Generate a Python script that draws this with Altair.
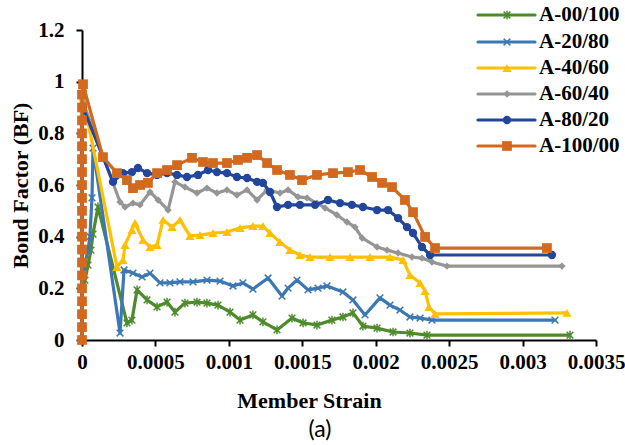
import altair as alt
import pandas as pd

# ---------------- data ----------------
names = ["A-00/100", "A-20/80", "A-40/60", "A-60/40", "A-80/20", "A-100/00"]
colors = ["#4E8B2C", "#3B78B4", "#FFC000", "#959595", "#22479A", "#D2691E"]

a00_strain = [0, 0, 0, 0, 0,
              0.00002, 0.000041, 0.000061, 0.000075, 0.000109, 0.000306, 0.00034, 0.000375, 0.000443, 0.000511,
              0.000579, 0.000633, 0.000701, 0.000783, 0.000851, 0.000926, 0.001008, 0.001076, 0.001164, 0.001232,
              0.001328, 0.00143, 0.001505, 0.0016, 0.001702, 0.001777, 0.001845, 0.001913, 0.002009, 0.002118,
              0.002233, 0.002349, 0.003323]
a00_bf = [0, 0.05, 0.10, 0.15, 0.20,
          0.232, 0.29, 0.348, 0.41, 0.515, 0.066, 0.077, 0.194, 0.155, 0.128,
          0.147, 0.108, 0.143, 0.147, 0.143, 0.135, 0.108, 0.077, 0.097, 0.070,
          0.039, 0.085, 0.066, 0.058, 0.077, 0.089, 0.105, 0.054, 0.046, 0.031,
          0.027, 0.019, 0.019]

a20_strain = [0, 0, 0, 0, 0, 0,
              0.000014, 0.000041, 0.000054, 0.000068, 0.000075, 0.000259, 0.000286, 0.000347, 0.000409, 0.000463,
              0.000531, 0.000599, 0.000667, 0.000756, 0.000851, 0.00094, 0.001028, 0.001096, 0.001164, 0.001267,
              0.001362, 0.001403, 0.001464, 0.001539, 0.001607, 0.001668, 0.001777, 0.001845, 0.001927, 0.002029,
              0.002097, 0.002165, 0.002233, 0.002302, 0.002383, 0.003221]
a20_bf = [0, 0.05, 0.10, 0.15, 0.20, 0.25,
          0.279, 0.348, 0.40, 0.55, 0.743, 0.027, 0.271, 0.259, 0.244, 0.259,
          0.221, 0.221, 0.225, 0.225, 0.232, 0.228, 0.209, 0.221, 0.197, 0.240,
          0.170, 0.201, 0.232, 0.194, 0.201, 0.209, 0.186, 0.155, 0.097, 0.163,
          0.135, 0.116, 0.089, 0.085, 0.077, 0.077]

a40_strain = [0, 0, 0, 0, 0, 0, 0, 0, 0, 0, 0, 0, 0, 0, 0, 0, 0, 0, 0,
              0.000007, 0.000238, 0.000279, 0.000293, 0.00034, 0.000361, 0.000415, 0.000463, 0.000511, 0.000552,
              0.000613, 0.000667, 0.000735, 0.000803, 0.000892, 0.000987, 0.001076, 0.001164, 0.001232, 0.00128,
              0.001348, 0.001416, 0.001484, 0.001553, 0.001689, 0.001825, 0.001961, 0.002097, 0.002186, 0.002233,
              0.002302, 0.002336, 0.002363, 0.002404, 0.003302]
a40_bf = [0, 0.05, 0.10, 0.15, 0.20, 0.25, 0.30, 0.35, 0.40, 0.45, 0.50, 0.55, 0.60, 0.65, 0.70, 0.75, 0.80, 0.85, 0.90,
          0.94, 0.283, 0.310, 0.368, 0.426, 0.453, 0.387, 0.360, 0.368, 0.465,
          0.437, 0.465, 0.403, 0.406, 0.414, 0.418, 0.434, 0.441, 0.441, 0.414,
          0.379, 0.348, 0.329, 0.321, 0.321, 0.321, 0.321, 0.321, 0.310, 0.252,
          0.221, 0.190, 0.128, 0.101, 0.105]

a60_strain = [0, 0, 0, 0, 0, 0, 0, 0, 0, 0, 0, 0, 0, 0, 0, 0, 0, 0,
              0.000007, 0.000259, 0.000293, 0.000347, 0.000395, 0.000463, 0.000518, 0.000586, 0.000633, 0.000701,
              0.000783, 0.000851, 0.000919, 0.000987, 0.001055, 0.001124, 0.001192, 0.00126, 0.001348, 0.001403,
              0.001471, 0.001532, 0.0016, 0.001655, 0.001736, 0.001804, 0.001859, 0.001907, 0.002009, 0.002077,
              0.002152, 0.002247, 0.002315, 0.002383, 0.002485, 0.003268]
a60_bf = [0, 0.05, 0.10, 0.15, 0.20, 0.25, 0.30, 0.35, 0.40, 0.45, 0.50, 0.55, 0.60, 0.65, 0.70, 0.75, 0.80, 0.85,
          0.92, 0.534, 0.515, 0.530, 0.523, 0.573, 0.542, 0.503, 0.612, 0.592,
          0.569, 0.588, 0.569, 0.581, 0.561, 0.581, 0.542, 0.581, 0.569, 0.581,
          0.554, 0.550, 0.530, 0.511, 0.484, 0.457, 0.437, 0.395, 0.360, 0.348,
          0.337, 0.321, 0.317, 0.302, 0.286, 0.286]

a80_strain = [0, 0, 0, 0, 0, 0, 0, 0, 0, 0, 0, 0, 0, 0, 0, 0, 0, 0,
              0.000007, 0.000211, 0.000279, 0.00034, 0.000381, 0.000443, 0.000511, 0.000579, 0.000647, 0.000715,
              0.00079, 0.000858, 0.000919, 0.000987, 0.001055, 0.001124, 0.001192, 0.001232, 0.00128, 0.001328,
              0.001403, 0.001484, 0.001587, 0.001675, 0.001757, 0.001838, 0.001913, 0.002009, 0.002084, 0.002152,
              0.002213, 0.002254, 0.002315, 0.00237, 0.0032]
a80_bf = [0, 0.05, 0.10, 0.15, 0.20, 0.25, 0.30, 0.35, 0.40, 0.45, 0.50, 0.55, 0.60, 0.65, 0.70, 0.75, 0.80, 0.85,
          0.90, 0.612, 0.646, 0.650, 0.666, 0.646, 0.639, 0.646, 0.639, 0.631,
          0.639, 0.658, 0.650, 0.646, 0.631, 0.627, 0.612, 0.608, 0.573, 0.515,
          0.523, 0.523, 0.523, 0.542, 0.530, 0.523, 0.515, 0.503, 0.503, 0.472,
          0.437, 0.414, 0.360, 0.329, 0.329]

a100_strain = [0, 0, 0, 0, 0, 0, 0, 0, 0, 0, 0, 0, 0, 0, 0, 0, 0, 0, 0, 0,
               0.000007, 0.000143, 0.000238, 0.000306, 0.000347, 0.000395, 0.000449, 0.000511, 0.000579, 0.000647,
               0.000749, 0.000824, 0.000892, 0.000987, 0.001062, 0.001124, 0.001192, 0.00126, 0.001328, 0.001416,
               0.001498, 0.0016, 0.001709, 0.001811, 0.001893, 0.001975, 0.002043, 0.002111, 0.002199, 0.002254,
               0.002336, 0.002404, 0.003166]
a100_bf = [0, 0.05, 0.10, 0.15, 0.20, 0.25, 0.30, 0.35, 0.40, 0.45, 0.50, 0.55, 0.60, 0.65, 0.70, 0.75, 0.80, 0.85, 0.90, 0.95,
           0.99, 0.708, 0.646, 0.619, 0.588, 0.600, 0.608, 0.646, 0.658, 0.677,
           0.705, 0.689, 0.685, 0.685, 0.697, 0.705, 0.716, 0.685, 0.658, 0.639,
           0.619, 0.639, 0.646, 0.650, 0.658, 0.631, 0.608, 0.592, 0.542, 0.495,
           0.399, 0.356, 0.356]

x_ticks = [0, 0.0005, 0.001, 0.0015, 0.002, 0.0025, 0.003, 0.0035]
y_ticks = [0, 0.2, 0.4, 0.6, 0.8, 1, 1.2]

series_strain = [a00_strain, a20_strain, a40_strain, a60_strain, a80_strain, a100_strain]
series_bf = [a00_bf, a20_bf, a40_bf, a60_bf, a80_bf, a100_bf]

# ---------------- styling ----------------
ASTERISK = "M-1,-1L1,1M-1,1L1,-1M0,-1.3L0,1.3"
XSHAPE = "M-1,-1L1,1M-1,1L1,-1"
marker_style = [
    dict(shape=ASTERISK, filled=False, size=45, strokeWidth=1.5),
    dict(shape=XSHAPE, filled=False, size=45, strokeWidth=1.5),
    dict(shape="triangle-up", filled=True, size=85),
    dict(shape="diamond", filled=True, size=55),
    dict(shape="circle", filled=True, size=70),
    dict(shape="square", filled=True, size=95),
]

SERIF = "Liberation Serif"

X = alt.X("strain:Q",
          scale=alt.Scale(domain=[0, 0.0035], nice=False),
          axis=alt.Axis(values=x_ticks, title="Member Strain",
                        labelExpr="datum.value == 0 ? '0' : format(datum.value, '.4~f')",
                        labelOverlap=False, labelFlush=False,
                        tickSize=6, labelPadding=5, titlePadding=18, titleX=227,
                        titleAlign="center"))
Y = alt.Y("bf:Q",
          scale=alt.Scale(domain=[0, 1.2], nice=False),
          axis=alt.Axis(values=y_ticks, title="Bond Factor (BF)",
                        labelExpr="format(datum.value, '~g')",
                        labelOverlap=False, labelFlush=False,
                        tickSize=6, labelPadding=12, titlePadding=5))

layers = []
for s, b, c, ms in zip(series_strain, series_bf, colors, marker_style):
    df = pd.DataFrame({"strain": s, "bf": b, "i": list(range(len(s)))})
    layers.append(
        alt.Chart(df).mark_line(color=c, strokeWidth=3.2, strokeJoin="round", strokeCap="round")
        .encode(x=X, y=Y, order="i:Q")
    )
    layers.append(
        alt.Chart(df).mark_point(color=c, opacity=1, **ms).encode(x=X, y=Y)
    )

# manual legend (line with marker in the middle, as in the reference)
dummy = pd.DataFrame({"k": [0]})
legend_rows = [-15, 12, 38, 64, 90, 116]
for name, c, ms, ry in zip(names, colors, marker_style, legend_rows):
    layers.append(
        alt.Chart(dummy).mark_rule(color=c, strokeWidth=3.2, strokeCap="round")
        .encode(x=alt.value(396), x2=alt.value(453), y=alt.value(ry))
    )
    layers.append(
        alt.Chart(dummy).mark_point(color=c, opacity=1, **ms)
        .encode(x=alt.value(425), y=alt.value(ry))
    )
    layers.append(
        alt.Chart(dummy).mark_text(align="left", baseline="middle", font=SERIF,
                                   fontWeight="bold", fontSize=21, color="black")
        .encode(x=alt.value(457), y=alt.value(ry), text=alt.value(name))
    )

layers.append(
    alt.Chart(dummy).mark_text(align="center", baseline="middle", font="Lato",
                               fontSize=23, color="black")
    .encode(x=alt.value(238), y=alt.value(400), text=alt.value("(a)"))
)

chart = (
    alt.layer(*layers)
    .properties(width=514, height=310, background="white",
                autosize=alt.AutoSizeParams(type="none"),
                padding={"left": 82, "top": 30, "right": 29, "bottom": 105})
    .configure_view(stroke=None)
    .configure_axis(grid=False, domainColor="black", domainWidth=2,
                    tickColor="black", tickWidth=2,
                    labelFont=SERIF, labelFontWeight="bold", labelFontSize=21, labelColor="black",
                    titleFont=SERIF, titleFontWeight="bold", titleFontSize=22, titleColor="black")
)

chart.save("out.html", embed_options={"renderer": "svg", "actions": False})
